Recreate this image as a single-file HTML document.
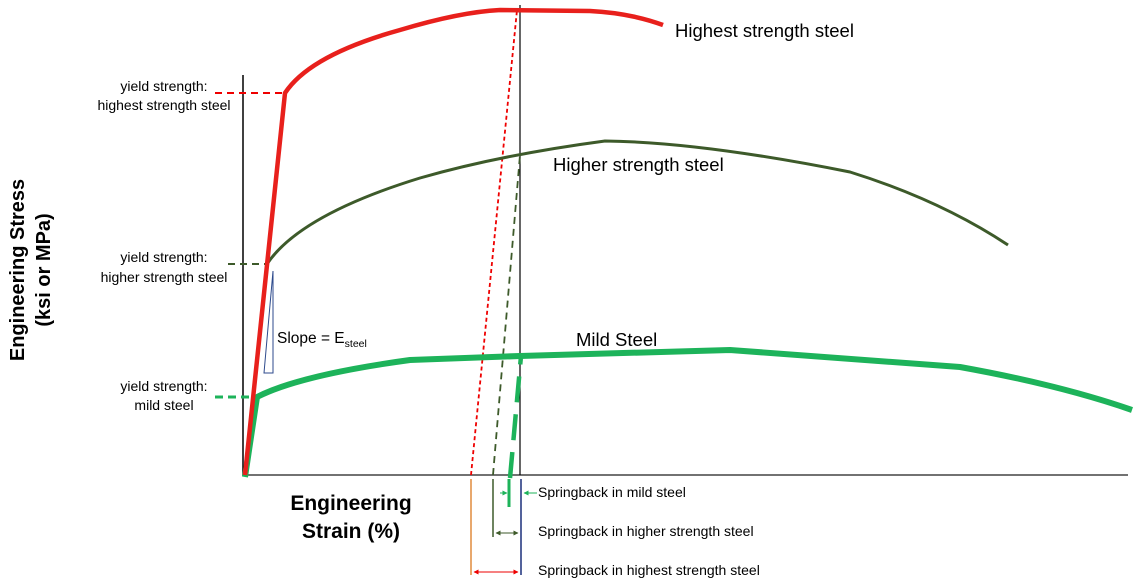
<!DOCTYPE html>
<html><head><meta charset="utf-8"><style>
html,body{margin:0;padding:0;background:#fff;}
svg{display:block;font-family:"Liberation Sans",sans-serif;}
</style></head><body>
<svg width="1146" height="587" viewBox="0 0 1146 587" xmlns="http://www.w3.org/2000/svg">
<defs>
<marker id="ar" viewBox="0 0 10 10" refX="9" refY="5" markerWidth="5" markerHeight="5" orient="auto-start-reverse"><path d="M0,0L10,5L0,10z" fill="#e00"/></marker>
<marker id="ag" viewBox="0 0 10 10" refX="9" refY="5" markerWidth="5" markerHeight="5" orient="auto-start-reverse"><path d="M0,0L10,5L0,10z" fill="#3d5a2a"/></marker>
<marker id="am" viewBox="0 0 10 10" refX="9" refY="5" markerWidth="5" markerHeight="5" orient="auto-start-reverse"><path d="M0,0L10,5L0,10z" fill="#1db35a"/></marker>
</defs>
<line x1="243" y1="75" x2="243" y2="476" stroke="#000" stroke-width="1.5"/>
<line x1="243" y1="475" x2="1128" y2="475" stroke="#444" stroke-width="1.5"/>
<line x1="520" y1="5" x2="520" y2="475" stroke="#000" stroke-width="1.2"/>
<line x1="215" y1="93" x2="285" y2="93" stroke="#e00" stroke-width="2" stroke-dasharray="7,5"/>
<line x1="228" y1="264" x2="267" y2="264" stroke="#3d5a2a" stroke-width="2" stroke-dasharray="7,5"/>
<line x1="215" y1="397" x2="257" y2="397" stroke="#1db35a" stroke-width="3" stroke-dasharray="8,5"/>
<line x1="471" y1="475" x2="517" y2="10" stroke="#e00" stroke-width="1.8" stroke-dasharray="4,3"/>
<line x1="493" y1="475" x2="520" y2="155" stroke="#3d5a2a" stroke-width="1.8" stroke-dasharray="7,5"/>
<line x1="510" y1="478" x2="521" y2="356" stroke="#1db35a" stroke-width="4.5" stroke-dasharray="26,12"/>
<path d="M245,477 L257,397 Q300,375 410,360 L520,356 L730,350 L960,367 Q1060,385 1132,410" fill="none" stroke="#1db35a" stroke-width="6" stroke-linejoin="round"/>
<path d="M245,475 L267,264 Q300,215 420,178 Q500,155 605,141 Q700,142 850,172 Q940,200 1008,245" fill="none" stroke="#3d5a2a" stroke-width="3"/>
<path d="M245,475 L285,93 Q310,55 400,30 Q460,12 500,10 L590,11 Q630,13 663,25" fill="none" stroke="#e8201c" stroke-width="4.5" stroke-linejoin="round"/>
<path d="M264,373 L273,271 L273,373 Z" fill="none" stroke="#2d4a8c" stroke-width="1"/>
<text x="277" y="343" font-size="15.5">Slope = E<tspan font-size="10.5" dy="4">steel</tspan></text>
<g font-size="14" text-anchor="middle">
<text x="164" y="91">yield strength:</text><text x="164" y="110">highest strength steel</text>
<text x="164" y="262">yield strength:</text><text x="164" y="282">higher strength steel</text>
<text x="164" y="391">yield strength:</text><text x="164" y="410">mild steel</text>
</g>
<text x="675" y="37" font-size="18.5">Highest strength steel</text>
<text x="553" y="171" font-size="18.5">Higher strength steel</text>
<text x="576" y="346" font-size="18.5">Mild Steel</text>
<text transform="translate(30,270) rotate(-90)" text-anchor="middle" font-size="20" font-weight="bold"><tspan x="0" y="-6">Engineering Stress</tspan><tspan x="0" y="20">(ksi or MPa)</tspan></text>
<g font-size="21" font-weight="bold" text-anchor="middle"><text x="351" y="510">Engineering</text><text x="351" y="538">Strain (%)</text></g>
<line x1="471" y1="479" x2="471" y2="575" stroke="#e08a3c" stroke-width="1.5"/>
<line x1="493" y1="479" x2="493" y2="537" stroke="#3d5a2a" stroke-width="1.5"/>
<line x1="521" y1="479" x2="521" y2="575" stroke="#1a2f7a" stroke-width="1.5"/>
<line x1="509" y1="479" x2="509" y2="507" stroke="#1db35a" stroke-width="3"/>
<line x1="474" y1="572" x2="518" y2="572" stroke="#e00" stroke-width="1" marker-start="url(#ar)" marker-end="url(#ar)"/>
<line x1="496" y1="533" x2="518" y2="533" stroke="#3d5a2a" stroke-width="1" marker-start="url(#ag)" marker-end="url(#ag)"/>
<line x1="500" y1="493" x2="507" y2="493" stroke="#1db35a" stroke-width="1" marker-end="url(#am)"/>
<line x1="537" y1="493" x2="524" y2="493" stroke="#1db35a" stroke-width="1" marker-end="url(#am)"/>
<g font-size="14"><text x="538" y="497">Springback in mild steel</text><text x="538" y="536">Springback in higher strength steel</text><text x="538" y="575">Springback in highest strength steel</text></g>
</svg>
</body></html>
